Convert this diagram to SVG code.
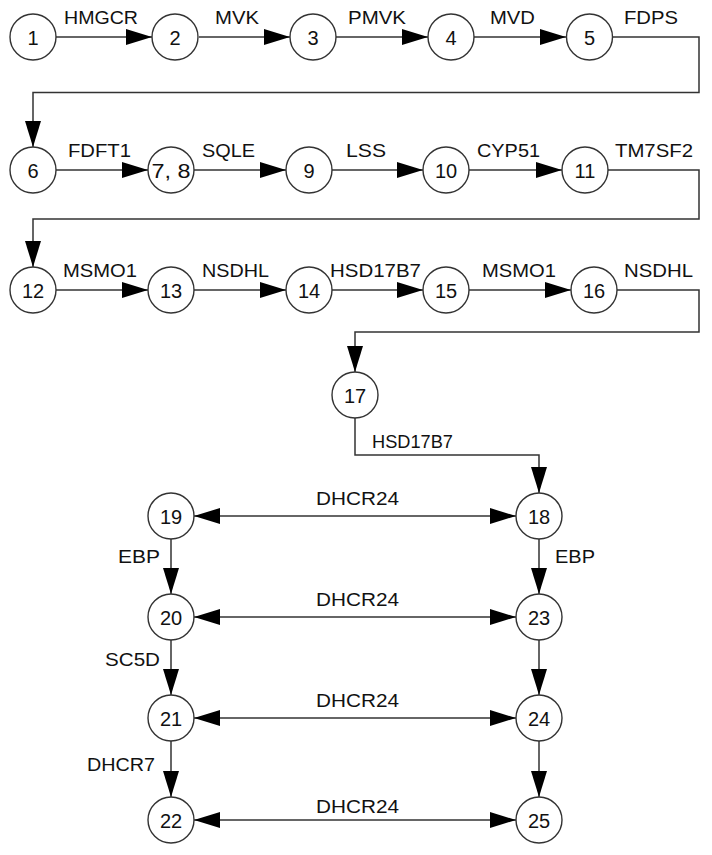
<svg xmlns="http://www.w3.org/2000/svg" width="712" height="855" viewBox="0 0 712 855">
<style>
.n circle{fill:#fff;stroke:#333;stroke-width:1.4}
.n text{font-family:"Liberation Sans",Arial,sans-serif;font-size:20px;fill:#111;text-anchor:middle}
.c path{fill:none;stroke:#333;stroke-width:1.5}
.l{font-family:"Liberation Sans",Arial,sans-serif;font-size:18.5px;fill:#111}
</style>
<defs>
<marker id="a" viewBox="0 0 26 16" refX="26" refY="8" markerWidth="26" markerHeight="16" markerUnits="userSpaceOnUse" orient="auto-start-reverse">
<path d="M0,0 L26,8 L0,16 z" fill="#000"/>
</marker>
</defs>
<rect width="712" height="855" fill="#fff"/>
<g class="c">
<path d="M56,37 H152" marker-end="url(#a)"/>
<path d="M199,37 H290" marker-end="url(#a)"/>
<path d="M336,37 H428" marker-end="url(#a)"/>
<path d="M474,37 H566" marker-end="url(#a)"/>
<path d="M613,37 H699 V92.5 H33 V147" marker-end="url(#a)"/>
<path d="M56,170 H148" marker-end="url(#a)"/>
<path d="M194,170 H286" marker-end="url(#a)"/>
<path d="M332,170 H423" marker-end="url(#a)"/>
<path d="M469,170 H562" marker-end="url(#a)"/>
<path d="M608,170 H699 V219 H33 V267" marker-end="url(#a)"/>
<path d="M56,290 H148" marker-end="url(#a)"/>
<path d="M194,290 H286" marker-end="url(#a)"/>
<path d="M332,290 H423" marker-end="url(#a)"/>
<path d="M469,290 H571" marker-end="url(#a)"/>
<path d="M617,290 H699 V332 H355 V372" marker-end="url(#a)"/>
<path d="M355,418 V455 H539 V493" marker-end="url(#a)"/>
<path d="M194,516 H516" marker-start="url(#a)" marker-end="url(#a)"/>
<path d="M194,617 H516" marker-start="url(#a)" marker-end="url(#a)"/>
<path d="M194,718 H516" marker-start="url(#a)" marker-end="url(#a)"/>
<path d="M194,820 H516" marker-start="url(#a)" marker-end="url(#a)"/>
<path d="M171,539 V594" marker-end="url(#a)"/>
<path d="M171,640 V695" marker-end="url(#a)"/>
<path d="M171,741 V797" marker-end="url(#a)"/>
<path d="M539,539 V594" marker-end="url(#a)"/>
<path d="M539,640 V695" marker-end="url(#a)"/>
<path d="M539,741 V797" marker-end="url(#a)"/>
<text class="l" x="64" y="24" textLength="74" lengthAdjust="spacingAndGlyphs">HMGCR</text>
<text class="l" x="215" y="24" textLength="44" lengthAdjust="spacingAndGlyphs">MVK</text>
<text class="l" x="348" y="24" textLength="58" lengthAdjust="spacingAndGlyphs">PMVK</text>
<text class="l" x="490" y="24" textLength="45" lengthAdjust="spacingAndGlyphs">MVD</text>
<text class="l" x="624" y="24" textLength="54" lengthAdjust="spacingAndGlyphs">FDPS</text>
<text class="l" x="68" y="157" textLength="63" lengthAdjust="spacingAndGlyphs">FDFT1</text>
<text class="l" x="202" y="157" textLength="53" lengthAdjust="spacingAndGlyphs">SQLE</text>
<text class="l" x="346" y="157" textLength="40" lengthAdjust="spacingAndGlyphs">LSS</text>
<text class="l" x="477" y="157" textLength="63" lengthAdjust="spacingAndGlyphs">CYP51</text>
<text class="l" x="615" y="157" textLength="78" lengthAdjust="spacingAndGlyphs">TM7SF2</text>
<text class="l" x="63" y="277" textLength="74" lengthAdjust="spacingAndGlyphs">MSMO1</text>
<text class="l" x="202" y="277" textLength="67" lengthAdjust="spacingAndGlyphs">NSDHL</text>
<text class="l" x="330" y="277" textLength="91" lengthAdjust="spacingAndGlyphs">HSD17B7</text>
<text class="l" x="482" y="277" textLength="74" lengthAdjust="spacingAndGlyphs">MSMO1</text>
<text class="l" x="624" y="277" textLength="69" lengthAdjust="spacingAndGlyphs">NSDHL</text>
<text class="l" x="372" y="448" textLength="81" lengthAdjust="spacingAndGlyphs">HSD17B7</text>
<text class="l" x="316" y="505" textLength="83" lengthAdjust="spacingAndGlyphs">DHCR24</text>
<text class="l" x="316" y="606" textLength="83" lengthAdjust="spacingAndGlyphs">DHCR24</text>
<text class="l" x="316" y="707" textLength="83" lengthAdjust="spacingAndGlyphs">DHCR24</text>
<text class="l" x="316" y="813" textLength="83" lengthAdjust="spacingAndGlyphs">DHCR24</text>
<text class="l" x="118" y="563" textLength="42" lengthAdjust="spacingAndGlyphs">EBP</text>
<text class="l" x="555" y="563" textLength="40" lengthAdjust="spacingAndGlyphs">EBP</text>
<text class="l" x="105" y="666" textLength="55" lengthAdjust="spacingAndGlyphs">SC5D</text>
<text class="l" x="87" y="771" textLength="68" lengthAdjust="spacingAndGlyphs">DHCR7</text>
</g>
<g id="n1" class="n"><circle cx="33" cy="37" r="23"/><text x="33" y="44.5">1</text></g>
<g id="n2" class="n"><circle cx="175" cy="37" r="23"/><text x="175" y="44.5">2</text></g>
<g id="n3" class="n"><circle cx="313" cy="37" r="23"/><text x="313" y="44.5">3</text></g>
<g id="n4" class="n"><circle cx="451" cy="37" r="23"/><text x="451" y="44.5">4</text></g>
<g id="n5" class="n"><circle cx="589.5" cy="37" r="23"/><text x="589.5" y="44.5">5</text></g>
<g id="n6" class="n"><circle cx="33" cy="170" r="23"/><text x="33" y="177.5">6</text></g>
<g id="n7_8" class="n"><circle cx="171" cy="170" r="23"/><text x="171" y="177.5" textLength="39" lengthAdjust="spacingAndGlyphs">7, 8</text></g>
<g id="n9" class="n"><circle cx="309" cy="170" r="23"/><text x="309" y="177.5">9</text></g>
<g id="n10" class="n"><circle cx="446" cy="170" r="23"/><text x="446" y="177.5">10</text></g>
<g id="n11" class="n"><circle cx="585" cy="170" r="23"/><text x="585" y="177.5">11</text></g>
<g id="n12" class="n"><circle cx="33" cy="290" r="23"/><text x="33" y="297.5">12</text></g>
<g id="n13" class="n"><circle cx="171" cy="290" r="23"/><text x="171" y="297.5">13</text></g>
<g id="n14" class="n"><circle cx="309" cy="290" r="23"/><text x="309" y="297.5">14</text></g>
<g id="n15" class="n"><circle cx="446" cy="290" r="23"/><text x="446" y="297.5">15</text></g>
<g id="n16" class="n"><circle cx="594" cy="290" r="23"/><text x="594" y="297.5">16</text></g>
<g id="n17" class="n"><circle cx="355" cy="395" r="23"/><text x="355" y="402.5">17</text></g>
<g id="n18" class="n"><circle cx="539" cy="516" r="23"/><text x="539" y="523.5">18</text></g>
<g id="n19" class="n"><circle cx="171" cy="516" r="23"/><text x="171" y="523.5">19</text></g>
<g id="n20" class="n"><circle cx="171" cy="617" r="23"/><text x="171" y="624.5">20</text></g>
<g id="n21" class="n"><circle cx="171" cy="718" r="23"/><text x="171" y="725.5">21</text></g>
<g id="n22" class="n"><circle cx="171" cy="820" r="23"/><text x="171" y="827.5">22</text></g>
<g id="n23" class="n"><circle cx="539" cy="617" r="23"/><text x="539" y="624.5">23</text></g>
<g id="n24" class="n"><circle cx="539" cy="718" r="23"/><text x="539" y="725.5">24</text></g>
<g id="n25" class="n"><circle cx="539" cy="820" r="23"/><text x="539" y="827.5">25</text></g>
</svg>
